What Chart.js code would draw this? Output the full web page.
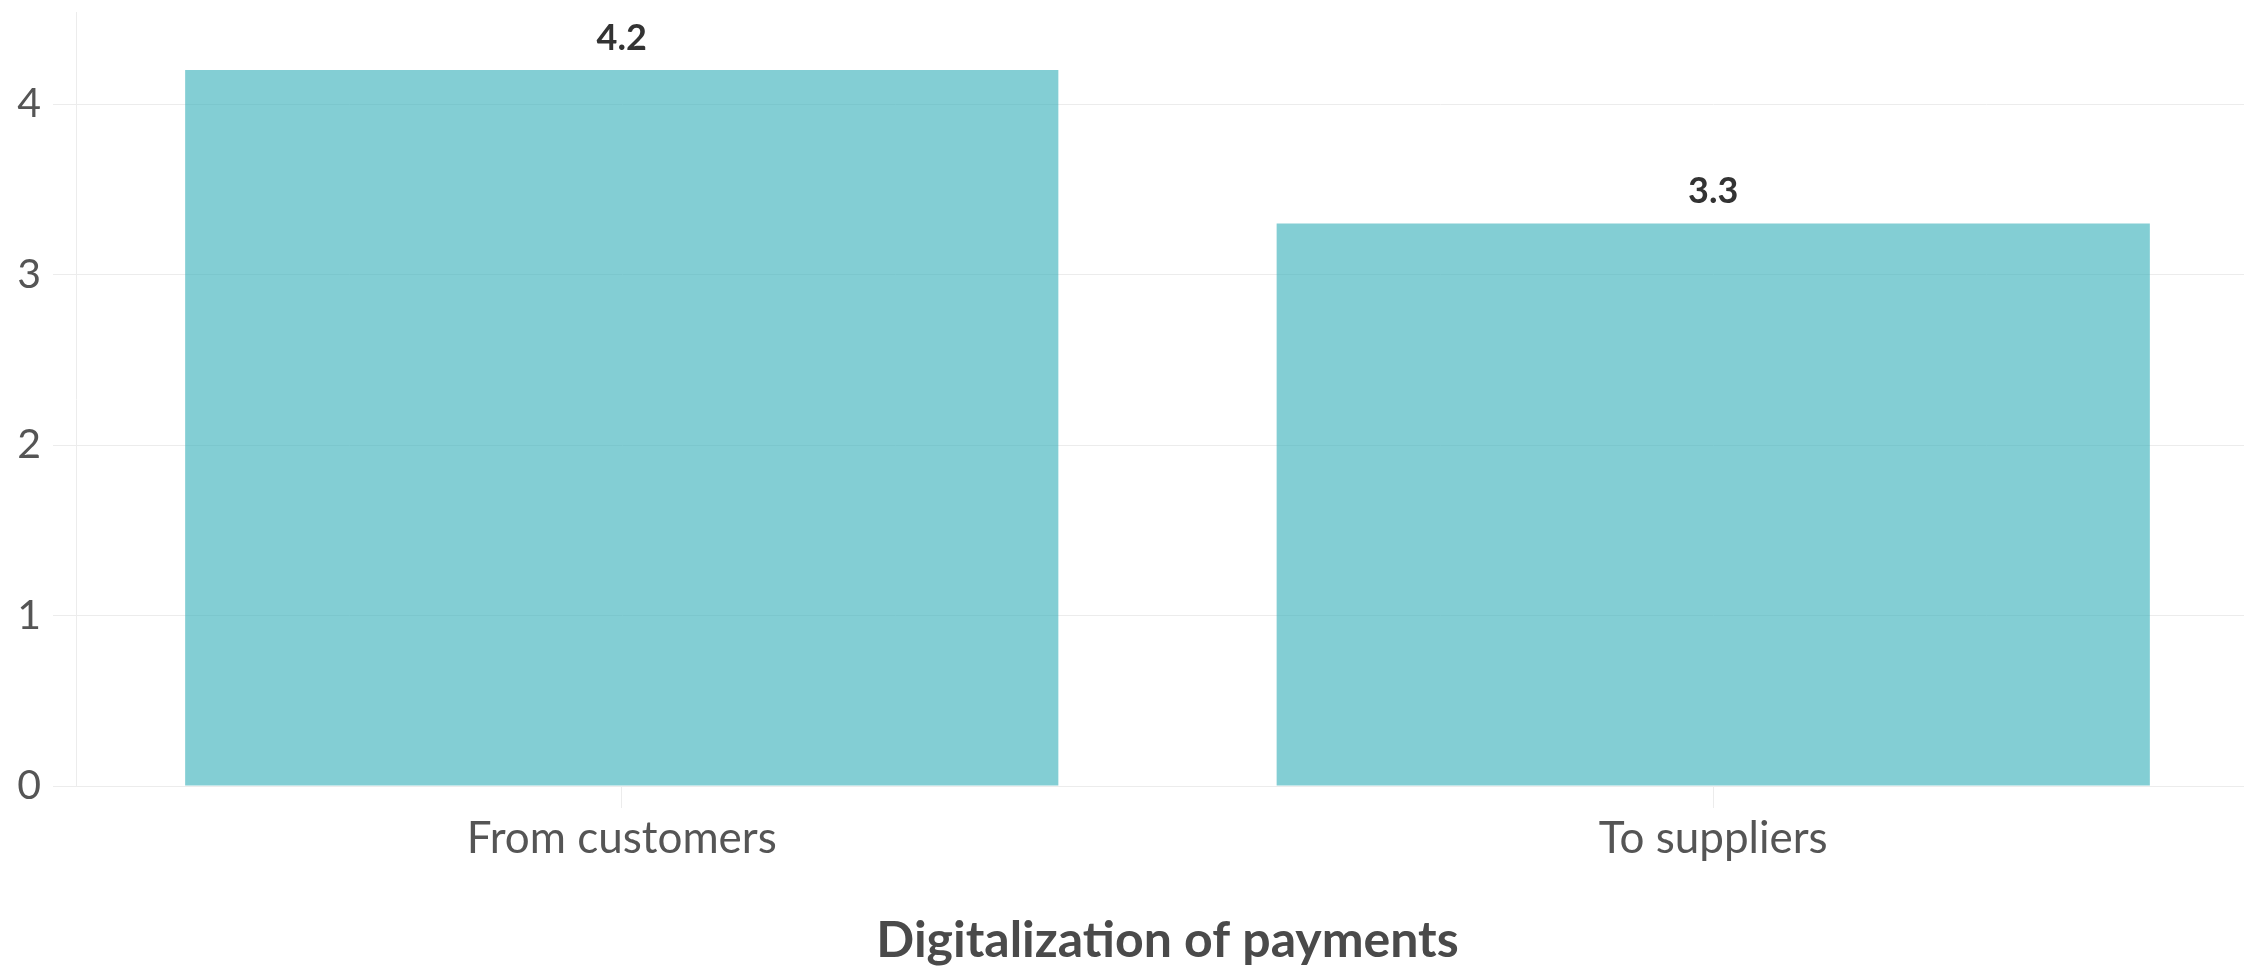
<!DOCTYPE html>
<html>
<head>
<meta charset="utf-8">
<script src="https://cdn.jsdelivr.net/npm/chart.js@4"></script>
<style>
  html, body { margin: 0; padding: 0; background: #fff; overflow: hidden; }
  #wrap { width: 2259px; height: 966px; }
</style>
</head>
<body>
<div id="wrap"><canvas id="chart" width="2259" height="966"></canvas></div>
<script>
// -------------------------------
// DATA
// -------------------------------
const categories = ["From customers", "To suppliers"];
const values = [4.2, 3.3];
const yTicks = [0, 1, 2, 3, 4];
const axisTitle = "Digitalization of payments";

const FONT = "Lato";
const GRID = "#ececec";

// value labels above the bars
const valueLabels = {
  id: "valueLabels",
  afterDatasetsDraw(chart) {
    const ctx = chart.ctx;
    const meta = chart.getDatasetMeta(0);
    ctx.save();
    ctx.font = "bold 36px " + FONT;
    ctx.fillStyle = "#333333";
    ctx.textAlign = "center";
    ctx.textBaseline = "alphabetic";
    meta.data.forEach((bar, i) => {
      ctx.fillText(values[i].toFixed(1), bar.x, bar.y - 20);
    });
    ctx.restore();
  }
};

function renderChart() {
  const ctx = document.getElementById("chart").getContext("2d");
  new Chart(ctx, {
    type: "bar",
    data: {
      labels: categories,
      datasets: [{
        data: values,
        backgroundColor: "rgba(64,180,189,0.65)",
        borderWidth: 0,
        barPercentage: 1,
        categoryPercentage: 0.8
      }]
    },
    options: {
      responsive: false,
      animation: false,
      layout: { padding: { top: 12, right: 0, left: 0, bottom: 0 } },
      plugins: {
        legend: { display: false },
        tooltip: { enabled: false }
      },
      scales: {
        x: {
          grid: { display: true, drawOnChartArea: false, offset: false, color: GRID, tickLength: 22 },
          border: { color: GRID },
          ticks: { color: "#555555", font: { family: FONT, size: 44 }, padding: 4, maxRotation: 0 },
          title: {
            display: true,
            text: axisTitle,
            color: "#4a4a4a",
            font: { family: FONT, size: 50, weight: "bold", lineHeight: 1 },
            padding: { top: 0, bottom: 0 }
          },
          afterFit: scale => { scale.height = 180; }
        },
        y: {
          min: 0,
          max: 4.54,
          grid: { color: GRID, tickLength: 23 },
          border: { color: GRID },
          ticks: { color: "#555555", font: { family: FONT, size: 41 }, padding: 12 },
          afterBuildTicks: scale => { scale.ticks = yTicks.map(v => ({ value: v })); },
          afterFit: scale => {
            scale.width = 76;
            scale.paddingTop = 0;
            scale.paddingBottom = 0;
          }
        }
      }
    },
    plugins: [valueLabels]
  });
}

document.fonts.load("40px Lato").then(() => document.fonts.load("bold 40px Lato")).then(renderChart, renderChart);
</script>
</body>
</html>
